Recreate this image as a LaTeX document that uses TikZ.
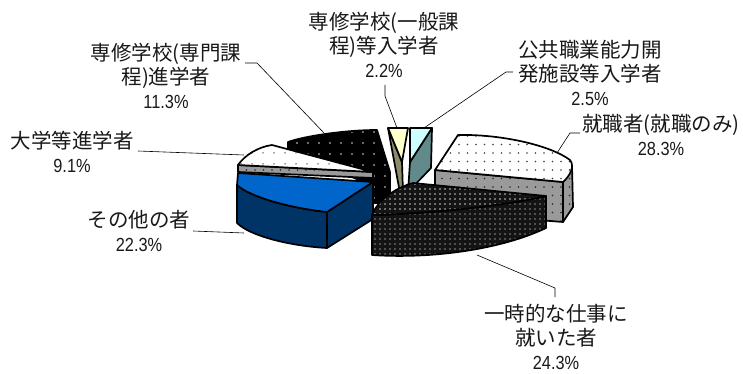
\documentclass[tikz,border=0pt]{standalone}
\usepackage{fontspec}
\setmainfont{Noto Sans CJK JP}
\newfontfamily\numfont[FakeStretch=0.86]{Liberation Sans}
\usetikzlibrary{patterns.meta}
\definecolor{blueTop}{HTML}{0066CC}
\definecolor{navySide}{HTML}{003366}
\definecolor{paleYel}{HTML}{FFFFCC}
\definecolor{oliveSide}{HTML}{8C8C6A}
\definecolor{paleCyan}{HTML}{CCFFFF}
\definecolor{tealSide}{HTML}{628A8A}
\definecolor{greySide}{HTML}{9A9A9A}
\newcommand\pctx[1]{{\numfont\fontsize{19}{24}\selectfont #1}}
\tikzset{
  edge/.style={draw=black, line width=1.7pt, line join=round},
  topwhite/.style={edge, preaction={fill=white}, preaction={pattern={Dots[distance=8.5pt,radius=0.8pt]}, pattern color=black!75}},
  topwhiteb/.style={edge, preaction={fill=white}, preaction={pattern={Dots[distance=10.5pt,radius=0.8pt]}, pattern color=black!75}},
  sidegrey/.style={edge, preaction={fill=greySide}, preaction={pattern={Dots[distance=8.5pt,radius=0.8pt]}, pattern color=black!85}},
  blackback/.style={edge, preaction={fill=black}, preaction={pattern={Dots[distance=11pt,radius=0.9pt]}, pattern color=white!85!black}},
  blacktop/.style={edge, preaction={fill=black!92}, preaction={pattern={Dots[distance=5pt,radius=0.9pt]}, pattern color=white!80!black}},
  blackside/.style={edge, preaction={fill=black!92}, preaction={pattern={Dots[distance=5pt,radius=0.85pt]}, pattern color=black!45}},
  leader/.style={draw=black, line width=0.6pt},
  lbl/.style={align=center, inner sep=0pt, font=\fontsize{20.5}{24}\selectfont, text=black!90}
}
\begin{document}
\begin{tikzpicture}[x=1pt,y=-1pt]
\useasboundingbox (0,0) rectangle (743,374);
\fill[white] (0,0) rectangle (743,374);

% 専修学校(専門課程) slice (back, black)
\path[blackback] (288,142) .. controls (305,136) and (345,130) .. (377,130) -- (390,172) -- (390,203) -- (372,203) -- (372,185) -- (288,152) -- cycle;

% 専修学校(一般課程) slice
\path[edge, fill=oliveSide] (388,128) -- (402,162) -- (403,193) -- (400,193) -- cycle;
\path[edge, fill=paleYel] (388,128) -- (408,128) -- (402,162) -- cycle;

% 公共職業能力開発施設 slice
\path[edge, fill=tealSide] (432,128) -- (431,168) -- (408,192) -- (410,162) -- cycle;
\path[edge, fill=paleCyan] (410,128) -- (432,128) -- (410,162) -- cycle;

% 就職者 slice
\path[sidegrey] (563,182) -- (572,166) -- (573,207) -- (563,222) -- cycle;
\path[sidegrey] (435,170) -- (563,182) -- (563,222) -- (435,212) -- cycle;
\path[topwhite] (458,135) .. controls (500,134) and (550,145) .. (570,160) .. controls (575,166) and (570,176) .. (563,182) -- (435,170) -- cycle;

% 大学等進学者 slice
\path[sidegrey] (238,165) -- (373,172) -- (373,178) -- (238,172) -- cycle;
\path[topwhiteb] (238,165) .. controls (245,155) and (258,147) .. (272,145) -- (373,172) -- cycle;

% その他の者 slice
\path[edge, fill=navySide] (237,185) .. controls (250,197) and (290,208) .. (327,212) -- (327,248) .. controls (290,246) and (250,236) .. (237,223) -- cycle;
\path[edge, fill=navySide] (327,212) -- (373,182) -- (373,219) -- (327,248) -- cycle;
\path[edge, fill=blueTop] (238,173) -- (373,182) -- (327,212) .. controls (290,208) and (250,197) .. (237,185) -- cycle;

% 一時的な仕事に就いた者 slice (front)
\path[blackside] (372,215) .. controls (420,214) and (500,207) .. (546,196) -- (546,228) .. controls (500,250) and (430,259) .. (372,255) -- cycle;
\path[blacktop] (372,215) .. controls (378,200) and (395,188) .. (413,183) -- (546,196) .. controls (500,207) and (420,214) .. (372,215) -- cycle;

% labels
\node[lbl] (L1) at (166,76) {専修学校(専門課\\程)進学者\\\pctx{11.3\%}};
\node[lbl] (L2) at (384,45) {専修学校(一般課\\程)等入学者\\\pctx{2.2\%}};
\node[lbl] (L3) at (590,73) {公共職業能力開\\発施設等入学者\\\pctx{2.5\%}};
\node[lbl] (L4) at (661,135) {就職者(就職のみ)\\\pctx{28.3\%}};
\node[lbl] (L5) at (72,152) {大学等進学者\\\pctx{9.1\%}};
\node[lbl] (L6) at (139,231) {その他の者\\\pctx{22.3\%}};
\node[lbl] (L7) at (556,337) {一時的な仕事に\\就いた者\\\pctx{24.3\%}};

% leader lines
\coordinate (a1) at (245,63);  \coordinate (b1) at (257,63);  \coordinate (c1) at (324,133);
\coordinate (a2) at (385,85);  \coordinate (b2) at (385,96);  \coordinate (c2) at (397,128);
\coordinate (a3) at (513,72);  \coordinate (b3) at (506,72);  \coordinate (c3) at (424,128);
\coordinate (a4) at (580,133); \coordinate (b4) at (570,133); \coordinate (c4) at (557,153);
\coordinate (a5) at (138,151); \coordinate (c5) at (244,155);
\coordinate (a6) at (193,231); \coordinate (c6) at (244,233);
\coordinate (a7) at (555,297); \coordinate (b7) at (555,288); \coordinate (c7) at (477,255);
\draw[leader] (a1) -- (b1) -- (c1);
\draw[leader] (a2) -- (b2) -- (c2);
\draw[leader] (a3) -- (b3) -- (c3);
\draw[leader] (a4) -- (b4) -- (c4);
\draw[leader] (a5) -- (c5);
\draw[leader] (a6) -- (c6);
\draw[leader] (a7) -- (b7) -- (c7);
\end{tikzpicture}
\end{document}
